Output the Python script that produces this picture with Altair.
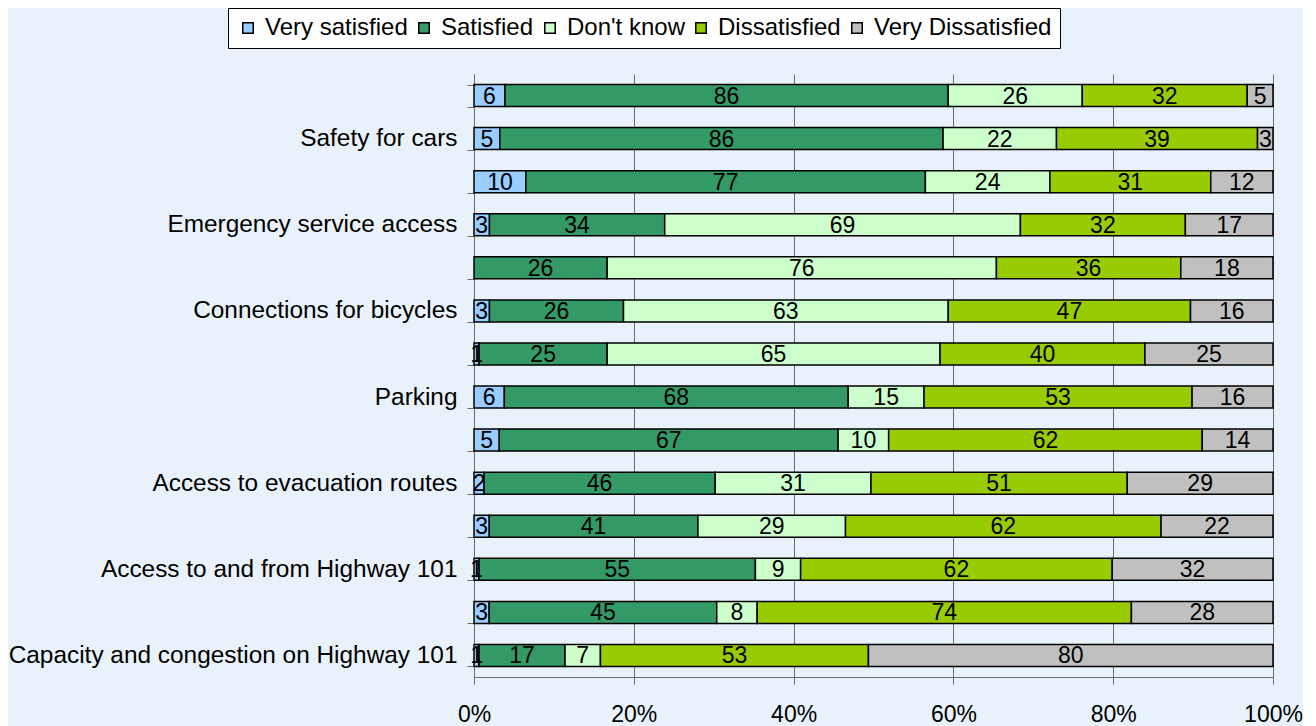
import json
import altair as alt
import pandas as pd

rows = [f"r{i:02d}" for i in range(1, 15)]
row_labels = ["", "Safety for cars", "", "Emergency service access", "",
              "Connections for bicycles", "", "Parking", "",
              "Access to evacuation routes", "", "Access to and from Highway 101",
              "", "Capacity and congestion on Highway 101"]

series = ["Very satisfied", "Satisfied", "Don't know", "Dissatisfied", "Very Dissatisfied"]
colors = ["#99CCFF", "#339966", "#CCFFCC", "#99CC00", "#C0C0C0"]

very_satisfied = [6, 5, 10, 3, 0, 3, 1, 6, 5, 2, 3, 1, 3, 1]
satisfied = [86, 86, 77, 34, 26, 26, 25, 68, 67, 46, 41, 55, 45, 17]
dont_know = [26, 22, 24, 69, 76, 63, 65, 15, 10, 31, 29, 9, 8, 7]
dissatisfied = [32, 39, 31, 32, 36, 47, 40, 53, 62, 51, 62, 62, 74, 53]
very_dissatisfied = [5, 3, 12, 17, 18, 16, 25, 16, 14, 29, 22, 32, 28, 80]

x_ticks = [0, 0.2, 0.4, 0.6, 0.8, 1.0]

records = []
for k, (name, vals) in enumerate(zip(series, [very_satisfied, satisfied, dont_know,
                                               dissatisfied, very_dissatisfied])):
    for r, v in zip(rows, vals):
        records.append({"row": r, "series": name, "k": k, "value": v})
df = pd.DataFrame(records)

FONT = "Liberation Sans"
label_expr = f"{json.dumps(row_labels)}[indexof({json.dumps(rows)}, datum.value)]"

base = alt.Chart(df).transform_filter("datum.value > 0").transform_stack(
    stack="value", groupby=["row"], as_=["v0", "v1"], offset="normalize",
    sort=[alt.SortField("k", order="ascending")]
).transform_calculate(mid="(datum.v0 + datum.v1) / 2")

y_enc = alt.Y("row:N", sort=rows, title=None,
              scale=alt.Scale(paddingInner=0.49, paddingOuter=0.245),
              axis=alt.Axis(labelExpr=label_expr, tickBand="extent", grid=False,
                            labelFontSize=24.4, labelFont=FONT, labelColor="black",
                            labelPadding=10, tickSize=7, tickColor="#6d6d6d",
                            domainColor="#6d6d6d", labelLimit=0))

bars = base.mark_bar(stroke="black", strokeWidth=1.5).encode(
    y=y_enc,
    x=alt.X("v0:Q", title=None, scale=alt.Scale(domain=[0, 1], nice=False),
            axis=alt.Axis(values=x_ticks, format=".0%", grid=True, gridColor="#6d6d6d",
                          gridOpacity=1, tickSize=7, tickColor="#6d6d6d",
                          domainColor="#6d6d6d", labelFontSize=23, labelFont=FONT,
                          labelColor="black", labelPadding=19, labelFlush=False)),
    x2="v1:Q",
    color=alt.Color("series:N", sort=series,
                    scale=alt.Scale(domain=series, range=colors),
                    legend=alt.Legend(title=None, orient="none", direction="horizontal",
                                      legendX=-246, legendY=-66,
                                      fillColor="white", strokeColor="black",
                                      padding=8, symbolType="square", symbolSize=110,
                                      symbolStrokeColor="black", symbolStrokeWidth=1.5,
                                      labelFontSize=24, labelFont=FONT, labelColor="black",
                                      labelOffset=5, columnPadding=4, labelLimit=0,
                                      symbolOpacity=1)),
)

texts = base.mark_text(fontSize=23, font=FONT, color="black", baseline="middle", dy=1).encode(
    y=alt.Y("row:N", sort=rows),
    x=alt.X("mid:Q"),
    text=alt.Text("value:Q"),
)

chart = alt.layer(bars, texts).properties(
    width=799, height=603,
    autosize=alt.AutoSizeParams(type="none"),
    padding={"left": 466, "top": 66, "right": 30, "bottom": 50},
    background="#E9F2FA",
).configure_view(stroke=None)

chart.save("out.html", embed_options={"renderer": "svg", "actions": False})
